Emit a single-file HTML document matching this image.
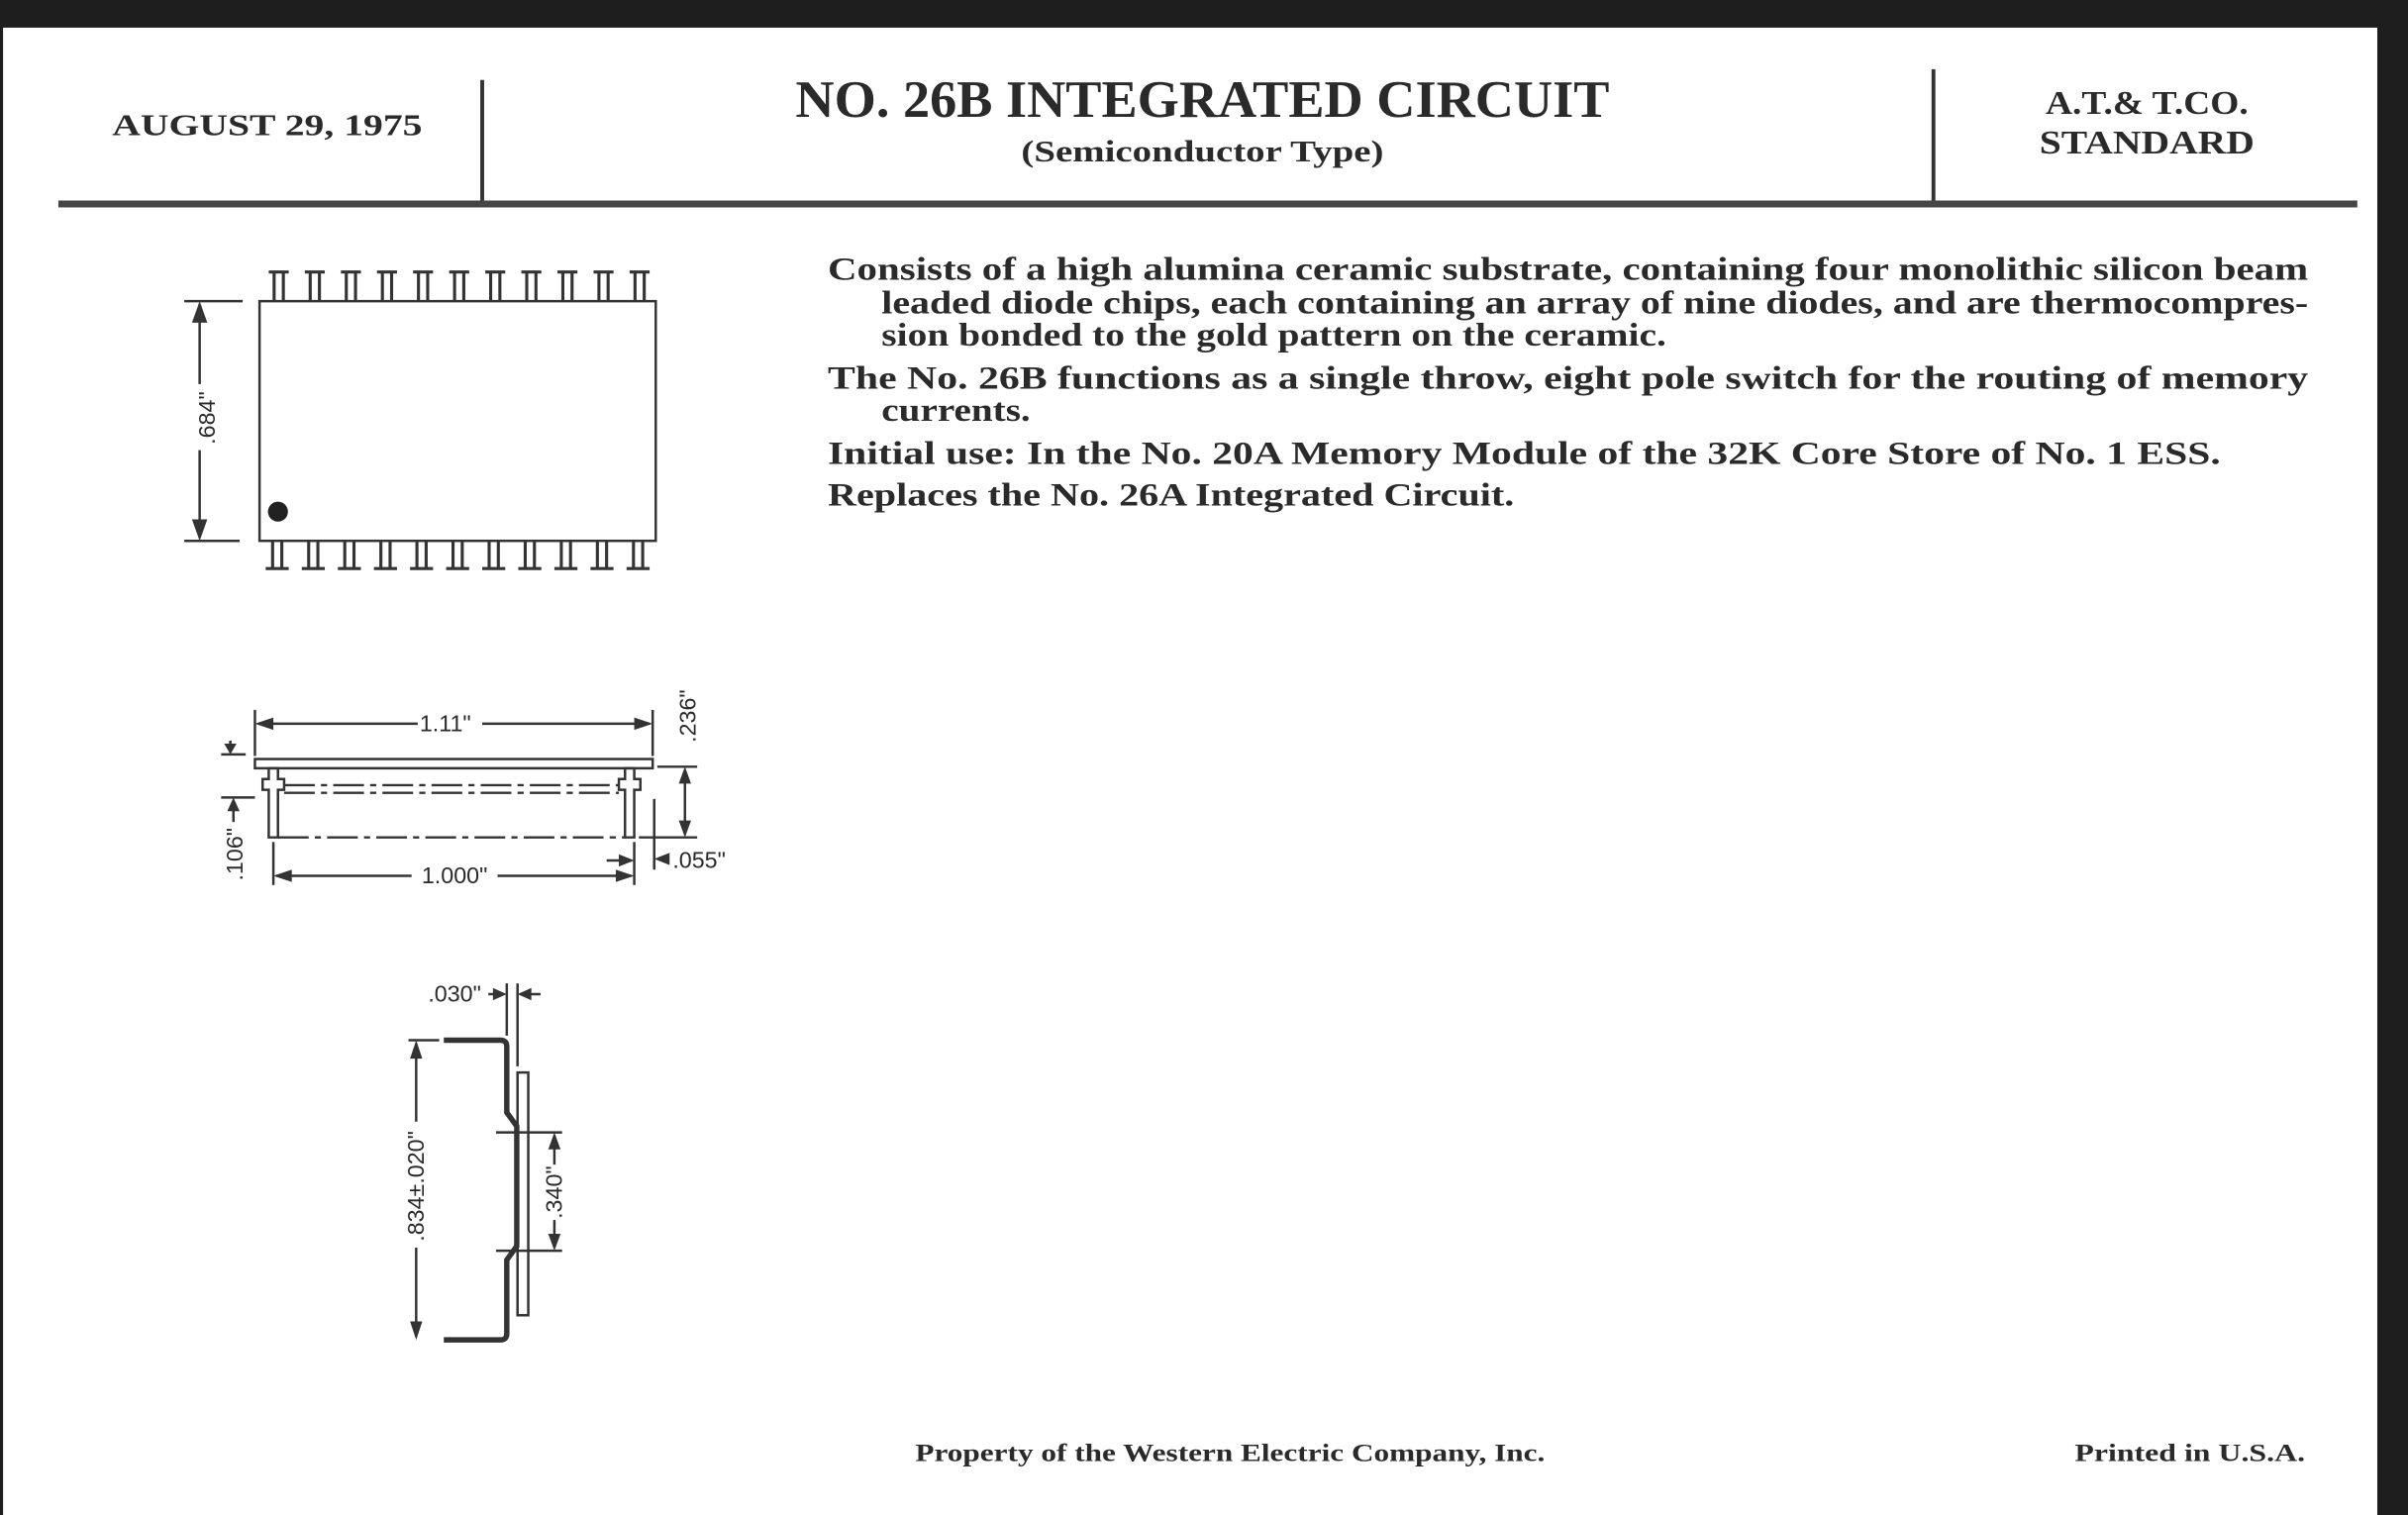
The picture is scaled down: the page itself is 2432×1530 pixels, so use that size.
<!DOCTYPE html>
<html><head><meta charset="utf-8"><style>
html,body{margin:0;padding:0;background:#1e1e1e;}
svg{display:block;}
text{font-family:"Liberation Serif",serif;fill:#2a2a2a;}
.b{font-weight:bold;}
.s{font-family:"Liberation Sans",sans-serif;font-size:15px;}
</style></head><body>
<svg width="2432" height="1530" viewBox="0 0 1568 986" preserveAspectRatio="none" xmlns="http://www.w3.org/2000/svg">
<rect x="0" y="0" width="1568" height="986" fill="#1e1e1e"/>
<rect x="2" y="18" width="1546" height="968" fill="#ffffff"/>
<!-- header -->
<text class="b" x="174" y="88" font-size="20" text-anchor="middle" textLength="202" lengthAdjust="spacingAndGlyphs">AUGUST 29, 1975</text>
<line x1="314" y1="52" x2="314" y2="131" stroke="#333" stroke-width="2.5"/>
<text class="b" x="783" y="76" font-size="34" text-anchor="middle" textLength="530" lengthAdjust="spacingAndGlyphs">NO. 26B INTEGRATED CIRCUIT</text>
<text class="b" x="783" y="105" font-size="20" text-anchor="middle" textLength="236" lengthAdjust="spacingAndGlyphs">(Semiconductor Type)</text>
<line x1="1259" y1="45" x2="1259" y2="131" stroke="#333" stroke-width="2.5"/>
<text class="b" x="1398" y="74" font-size="22" text-anchor="middle" textLength="132" lengthAdjust="spacingAndGlyphs">A.T.&amp; T.CO.</text>
<text class="b" x="1398" y="100" font-size="22" text-anchor="middle" textLength="140" lengthAdjust="spacingAndGlyphs">STANDARD</text>
<rect x="38" y="130.5" width="1497" height="4.5" fill="#444"/>
<!-- body text -->
<g class="b" font-size="21">
<text x="539" y="182" textLength="964" lengthAdjust="spacingAndGlyphs">Consists of a high alumina ceramic substrate, containing four monolithic silicon beam</text>
<text x="574" y="204" textLength="929" lengthAdjust="spacingAndGlyphs">leaded diode chips, each containing an array of nine diodes, and are thermocompres-</text>
<text x="574" y="225" textLength="511" lengthAdjust="spacingAndGlyphs">sion bonded to the gold pattern on the ceramic.</text>
<text x="539" y="253" textLength="964" lengthAdjust="spacingAndGlyphs">The No. 26B functions as a single throw, eight pole switch for the routing of memory</text>
<text x="574" y="274" textLength="97" lengthAdjust="spacingAndGlyphs">currents.</text>
<text x="539" y="302" textLength="907" lengthAdjust="spacingAndGlyphs">Initial use:  In the No. 20A Memory Module of the 32K Core Store of No. 1 ESS.</text>
<text x="539" y="329" textLength="447" lengthAdjust="spacingAndGlyphs">Replaces the No. 26A Integrated Circuit.</text>
</g>
<!-- footer -->
<text class="b" x="801" y="951" font-size="16" text-anchor="middle" textLength="410" lengthAdjust="spacingAndGlyphs">Property of the Western Electric Company, Inc.</text>
<text class="b" x="1501" y="951" font-size="16" text-anchor="end" textLength="150" lengthAdjust="spacingAndGlyphs">Printed in U.S.A.</text>

<g stroke="#333" fill="none" stroke-width="1.6">
<!-- drawing 1 -->
<rect x="169" y="196" width="258" height="156"/>
<g id="pt">
<path d="M175 177 H188 M178.5 177 V196 M184.5 177 V196" stroke-width="2"/>
</g>
<use href="#pt" x="23.5"/><use href="#pt" x="47"/><use href="#pt" x="70.5"/><use href="#pt" x="94"/><use href="#pt" x="117.5"/><use href="#pt" x="141"/><use href="#pt" x="164.5"/><use href="#pt" x="188"/><use href="#pt" x="211.5"/><use href="#pt" x="235"/>
<g id="pb">
<path d="M173 370 H188 M177.5 352 V370 M183.5 352 V370" stroke-width="2"/>
</g>
<use href="#pb" x="23.5"/><use href="#pb" x="47"/><use href="#pb" x="70.5"/><use href="#pb" x="94"/><use href="#pb" x="117.5"/><use href="#pb" x="141"/><use href="#pb" x="164.5"/><use href="#pb" x="188"/><use href="#pb" x="211.5"/><use href="#pb" x="235"/>
<line x1="120" y1="196" x2="158" y2="196"/>
<line x1="120" y1="352" x2="156" y2="352"/>
<line x1="130" y1="198" x2="130" y2="250"/>
<line x1="130" y1="293" x2="130" y2="350"/>
<!-- drawing 2 -->
<rect x="166" y="494" width="259" height="6"/>
<line x1="166" y1="462" x2="166" y2="492"/>
<line x1="425" y1="462" x2="425" y2="492"/>
<line x1="168" y1="471" x2="272" y2="471"/>
<line x1="314" y1="471" x2="423" y2="471"/>
<line x1="144" y1="491" x2="160" y2="491"/>
<line x1="150" y1="482" x2="150" y2="489"/>
<path d="M175 500 V507 H171 V514 H175 V545 H181 V514 H185 V507 H181 V500 Z"/>
<path d="M407 500 V507 H403 V514 H407 V545 H413 V514 H417 V507 H413 V500 Z"/>
<line x1="185" y1="511" x2="403" y2="511" stroke-dasharray="20 4 4 4"/>
<line x1="185" y1="516" x2="403" y2="516" stroke-dasharray="20 4 4 4"/>
<line x1="181" y1="545" x2="407" y2="545" stroke-dasharray="20 4 4 4"/>
<line x1="144" y1="519" x2="166" y2="519"/>
<line x1="152" y1="521" x2="152" y2="535"/>
<line x1="428" y1="499" x2="454" y2="499"/>
<line x1="416" y1="545" x2="454" y2="545"/>
<line x1="446" y1="501" x2="446" y2="543"/>
<line x1="426" y1="520" x2="426" y2="566"/>
<line x1="413" y1="548" x2="413" y2="576"/>
<line x1="178" y1="548" x2="178" y2="576"/>
<line x1="180" y1="570" x2="268" y2="570"/>
<line x1="324" y1="570" x2="411" y2="570"/>
<line x1="395" y1="560" x2="411" y2="560"/>
<!-- drawing 3 -->
<path d="M289 677 H326 Q330 677 330 681 V724 L336.5 733 V811 L330 820 V868 Q330 872 326 872 H289" stroke-width="3.5"/>
<rect x="337" y="698" width="7" height="158"/>
<line x1="330" y1="640" x2="330" y2="674"/>
<line x1="337" y1="640" x2="337" y2="694"/>
<line x1="318" y1="647" x2="328" y2="647"/>
<line x1="339" y1="647" x2="352" y2="647"/>
<line x1="266" y1="677" x2="286" y2="677"/>
<line x1="271" y1="679" x2="271" y2="730"/>
<line x1="271" y1="812" x2="271" y2="870"/>
<line x1="323" y1="737" x2="366" y2="737"/>
<line x1="323" y1="814" x2="366" y2="814"/>
<line x1="361" y1="739" x2="361" y2="758"/>
<line x1="361" y1="794" x2="361" y2="812"/>
</g>
<!-- arrowheads -->
<g fill="#333">
<path d="M130 196 L125 210 L135 210 Z"/><path d="M130 352 L125 338 L135 338 Z"/>
<path d="M166 471 L178 467 L178 475 Z"/><path d="M425 471 L413 467 L413 475 Z"/>
<path d="M150 491 L146 484 L154 484 Z"/>
<path d="M152 519 L148 528 L156 528 Z"/>
<path d="M446 499 L442 510 L450 510 Z"/><path d="M446 545 L442 534 L450 534 Z"/>
<path d="M426 559 L436 555 L436 563 Z"/>
<path d="M413 560 L403 556 L403 564 Z"/>
<path d="M178 570 L190 566 L190 574 Z"/><path d="M413 570 L401 566 L401 574 Z"/>
<path d="M330 647 L321 643 L321 651 Z"/><path d="M337 647 L346 643 L346 651 Z"/>
<path d="M271 677 L267 689 L275 689 Z"/><path d="M271 872 L267 860 L275 860 Z"/>
<path d="M361 737 L357 748 L365 748 Z"/><path d="M361 814 L357 803 L365 803 Z"/>
</g>
<circle cx="181" cy="333" r="6.5" fill="#222"/>
<!-- dimension labels -->
<text class="s" x="0" y="0" text-anchor="middle" transform="translate(140,272) rotate(-90)">.684"</text>
<text class="s" x="290" y="476" text-anchor="middle">1.11"</text>
<text class="s" x="0" y="0" text-anchor="middle" transform="translate(453,466) rotate(-90)">.236"</text>
<text class="s" x="0" y="0" text-anchor="middle" transform="translate(158,556) rotate(-90)">.106"</text>
<text class="s" x="438" y="565">.055"</text>
<text class="s" x="296" y="575" text-anchor="middle">1.000"</text>
<text class="s" x="296" y="652" text-anchor="middle">.030"</text>
<text class="s" x="0" y="0" text-anchor="middle" transform="translate(276,772) rotate(-90)">.834±.020"</text>
<text class="s" x="0" y="0" text-anchor="middle" transform="translate(366,776) rotate(-90)">.340"</text>
</svg>
</body></html>
